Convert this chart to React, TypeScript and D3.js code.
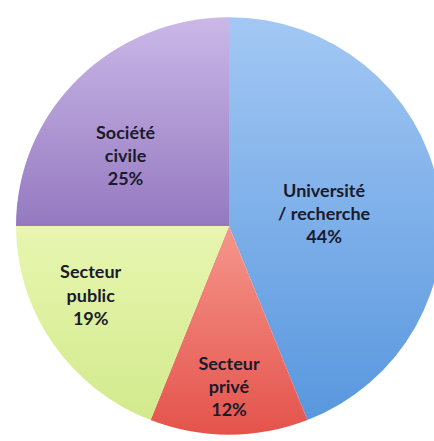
import * as d3 from 'd3';
import { useEffect, useRef } from 'react';

const categories = ['Université / recherche', 'Secteur privé', 'Secteur public', 'Société civile'];
const shares = [44, 12, 19, 25];
const labelLines = [
  ['Université', '/ recherche', '44%'],
  ['Secteur', 'privé', '12%'],
  ['Secteur', 'public', '19%'],
  ['Société', 'civile', '25%'],
];

// gradient colours (top, bottom) per slice
const colorsTop = ['#a3c8f4', '#f6968c', '#e8f6b0', '#cbb8e8'];
const colorsBottom = ['#5897de', '#e4534b', '#d2ea8c', '#9479c0'];

// label placement tweaks, relative to each slice's mid angle
const labelRadius = [0.45, 0.77, 0.73, 0.59];
const labelTurn = [3.6, 0, 7, -10.4];

const W = 434;
const H = 441;

const App = () => {
  const svgRef = useRef<SVGSVGElement>(null);

  useEffect(() => {
    document.body.style.margin = '0';
    const svg = d3.select(svgRef.current);
    svg.selectAll('*').remove();

    const cx = 229;
    const cy = 226;
    const r = 213;

    const data = categories.map((c, i) => ({ name: c, value: shares[i], i }));
    const pie = d3.pie<any>().value(d => d.value).sort(null);
    const arc = d3.arc<any>().innerRadius(0).outerRadius(r);
    const arcs = pie(data);

    const defs = svg.append('defs');
    data.forEach((d, i) => {
      const g = defs.append('linearGradient')
        .attr('id', `grad${i}`)
        .attr('x1', 0).attr('y1', 0).attr('x2', 0).attr('y2', 1);
      g.append('stop').attr('offset', '0%').attr('stop-color', colorsTop[i]);
      g.append('stop').attr('offset', '100%').attr('stop-color', colorsBottom[i]);
    });

    const g = svg.append('g').attr('transform', `translate(${cx},${cy}) scale(1,0.98)`);

    g.selectAll('path')
      .data(arcs)
      .enter()
      .append('path')
      .attr('d', arc)
      .attr('fill', (d: any) => `url(#grad${d.data.i})`);

    const lineH = 23.5;
    arcs.forEach((a: any, i) => {
      const mid = (a.startAngle + a.endAngle) / 2 + (labelTurn[i] * Math.PI) / 180;
      const lr = r * labelRadius[i];
      const x = Math.sin(mid) * lr;
      const y = -Math.cos(mid) * lr;
      const t = g.append('text')
        .attr('text-anchor', 'middle')
        .attr('font-family', 'Lato, sans-serif')
        .attr('font-weight', 'bold')
        .attr('font-size', 18)
        .attr('fill', '#1a1a2c');
      labelLines[i].forEach((line, k) => {
        t.append('tspan')
          .attr('x', x)
          .attr('y', y + (k - 1) * lineH + 6)
          .text(line);
      });
    });
  }, []);

  return <svg ref={svgRef} width={W} height={H} style={{ display: 'block' }}></svg>;
};

export default App;
